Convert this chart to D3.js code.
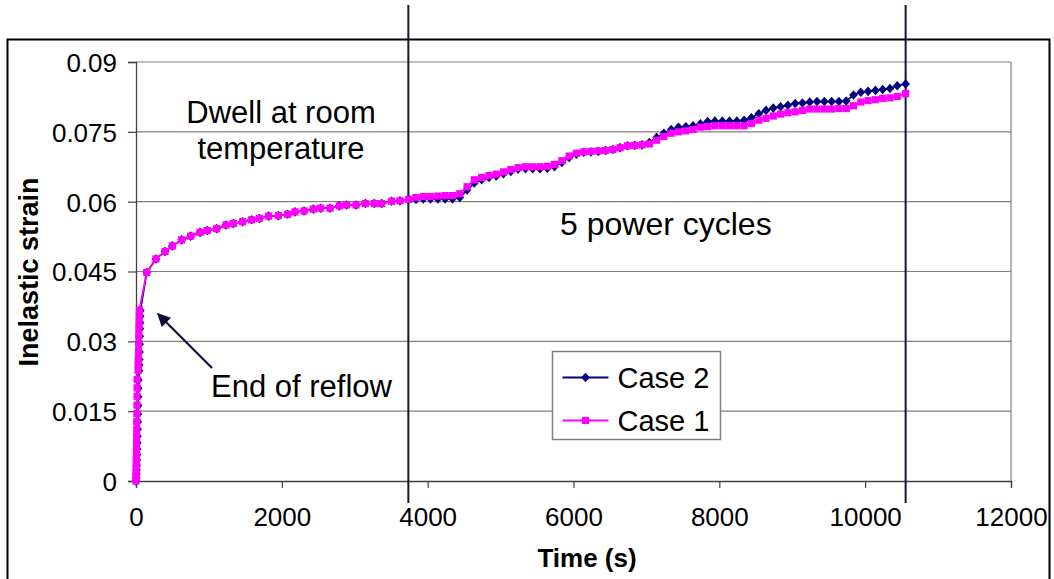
<!DOCTYPE html>
<html>
<head>
<meta charset="utf-8">
<script src="https://cdn.jsdelivr.net/npm/d3@7"></script>
<style>
  body { margin: 0; background: #fff; }
  svg { display: block; font-family: "Liberation Sans", Arial, sans-serif; }
</style>
</head>
<body>
<svg id="chart" width="1054" height="579"></svg>
<script>
// reflow: first seconds, strain climbs almost straight up
const reflowTime1 = [0, 1, 2, 3, 4, 5, 6, 7, 8, 9, 10, 11, 12, 13, 14, 15, 16, 28, 30, 32, 34, 36, 38, 40, 42, 44, 46];
const reflowStrain1 = [0, 0.0008, 0.0016, 0.0025, 0.0035, 0.0046, 0.0058, 0.007, 0.0083, 0.0097, 0.0112, 0.0128, 0.0145, 0.0163, 0.0182, 0.0200, 0.0218, 0.0238, 0.0250, 0.0262, 0.0278, 0.0295, 0.0312, 0.0328, 0.0341, 0.0355, 0.0367];
const reflowTime2 = [0, 4, 6, 8, 10, 12, 14, 16, 18, 20, 22, 24, 26, 28, 30, 32, 34, 42, 44, 46, 48, 50, 52, 54, 56, 58, 60];
const reflowStrain2 = [0, 0.0007, 0.0015, 0.0024, 0.0034, 0.0045, 0.0057, 0.0069, 0.0082, 0.0096, 0.0111, 0.0127, 0.0144, 0.0162, 0.0181, 0.0199, 0.0217, 0.0237, 0.0249, 0.0261, 0.0277, 0.0294, 0.0311, 0.0327, 0.0340, 0.0354, 0.0366];

// dwell at room temperature, both cases lie on top of each other
const dwellTime = [147, 274, 398, 498, 626, 750, 878, 978, 1106, 1234, 1335, 1463, 1586, 1691, 1820, 1952, 2080, 2180, 2304, 2432, 2533, 2660, 2788, 2889, 3017, 3145, 3268, 3369, 3506, 3620];
const dwellStrain = [0.0448, 0.0477, 0.0493, 0.0505, 0.0518, 0.0526, 0.0534, 0.0538, 0.0542, 0.0550, 0.0553, 0.0557, 0.0561, 0.0564, 0.0569, 0.0570, 0.0573, 0.0578, 0.0580, 0.0584, 0.0586, 0.0586, 0.0591, 0.0593, 0.0593, 0.0596, 0.0596, 0.0596, 0.0601, 0.0602];

// 5 power cycles
const cycleTime = [3740, 3840, 3940, 4040, 4140, 4240, 4340, 4440, 4540, 4640, 4740, 4840, 4940, 5040, 5140, 5240, 5340, 5440, 5540, 5640, 5740, 5840, 5940, 6040, 6140, 6240, 6340, 6440, 6540, 6640, 6740, 6840, 6940, 7040, 7140, 7240, 7340, 7440, 7540, 7640, 7740, 7840, 7940, 8040, 8140, 8240, 8340, 8440, 8540, 8640, 8740, 8840, 8940, 9040, 9140, 9240, 9340, 9440, 9540, 9640, 9740, 9840, 9940, 10040, 10140, 10240, 10340, 10440, 10555];
const cycleStrain1 = [0.0605, 0.0609, 0.0611, 0.0611, 0.0612, 0.0613, 0.0613, 0.0617, 0.0632, 0.0647, 0.0652, 0.0656, 0.0659, 0.0664, 0.0669, 0.0673, 0.0675, 0.0675, 0.0675, 0.0676, 0.0680, 0.0688, 0.0698, 0.0704, 0.0707, 0.0708, 0.0709, 0.0710, 0.0712, 0.0716, 0.0720, 0.0721, 0.0722, 0.0724, 0.0732, 0.0740, 0.0747, 0.0750, 0.0752, 0.0755, 0.0760, 0.0761, 0.0763, 0.0763, 0.0763, 0.0763, 0.0763, 0.0768, 0.0775, 0.0779, 0.0784, 0.0788, 0.0791, 0.0793, 0.0796, 0.0799, 0.0799, 0.0799, 0.0799, 0.0800, 0.0800, 0.0806, 0.0814, 0.0817, 0.0819, 0.0822, 0.0823, 0.0826, 0.0832];
const cycleStrain2 = [0.0605, 0.0605, 0.0606, 0.0606, 0.0606, 0.0606, 0.0606, 0.0609, 0.0625, 0.0640, 0.0647, 0.0652, 0.0655, 0.0660, 0.0665, 0.0670, 0.0671, 0.0671, 0.0671, 0.0672, 0.0675, 0.0684, 0.0695, 0.0702, 0.0706, 0.0707, 0.0708, 0.0710, 0.0712, 0.0716, 0.0720, 0.0721, 0.0722, 0.0727, 0.0738, 0.0747, 0.0755, 0.0760, 0.0761, 0.0763, 0.0767, 0.0772, 0.0773, 0.0773, 0.0773, 0.0773, 0.0775, 0.0780, 0.0789, 0.0796, 0.0801, 0.0804, 0.0807, 0.0811, 0.0812, 0.0814, 0.0815, 0.0815, 0.0815, 0.0815, 0.0816, 0.0829, 0.0835, 0.0837, 0.0839, 0.0841, 0.0843, 0.0849, 0.0853];

const xTicks = [0, 2000, 4000, 6000, 8000, 10000, 12000];
const yTicks = [0, 0.015, 0.03, 0.045, 0.06, 0.075, 0.09];
const eventTimes = [3735, 10555];
const seriesNames = ["Case 2", "Case 1"];
const seriesColors = ["#000080", "#ff00ff"];

const svg = d3.select("#chart");
const plot = {left: 136, right: 1011, top: 62, bottom: 481};

const x = d3.scaleLinear().domain([0, 12000]).range([plot.left, plot.right]);
const y = d3.scaleLinear().domain([0, 0.09]).range([plot.bottom, plot.top]);

function zipSeries(parts) {
  let pts = [];
  parts.forEach(function(p) {
    p[0].forEach(function(t, i) { pts.push({t: t, v: p[1][i]}); });
  });
  return pts;
}
const case1 = zipSeries([[reflowTime1, reflowStrain1], [dwellTime, dwellStrain], [cycleTime, cycleStrain1]]);
const case2 = zipSeries([[reflowTime2, reflowStrain2], [dwellTime, dwellStrain], [cycleTime, cycleStrain2]]);

svg.append("rect").attr("width", 1054).attr("height", 579).attr("fill", "#fff");

// outer chart frame
svg.append("rect")
  .attr("x", 7.5).attr("y", 39.5).attr("width", 1042).attr("height", 600)
  .attr("fill", "none").attr("stroke", "#000").attr("stroke-width", 2);

// gridlines
svg.append("g").selectAll("line").data(yTicks.slice(1)).join("line")
  .attr("x1", plot.left).attr("x2", plot.right)
  .attr("y1", d => y(d)).attr("y2", d => y(d))
  .attr("stroke", "#808080").attr("stroke-width", 1.2);
svg.append("line")
  .attr("x1", plot.right).attr("x2", plot.right).attr("y1", plot.top).attr("y2", plot.bottom)
  .attr("stroke", "#808080").attr("stroke-width", 1.2);

const xAxis = svg.append("g").attr("transform", `translate(0,${plot.bottom})`)
  .call(d3.axisBottom(x).tickValues(xTicks).tickSize(7).tickPadding(20).tickFormat(d3.format("d")));
const yAxis = svg.append("g").attr("transform", `translate(${plot.left},0)`)
  .call(d3.axisLeft(y).tickValues(yTicks).tickSize(8).tickPadding(11).tickFormat(d3.format("~g")));
[xAxis, yAxis].forEach(function(a) {
  a.select(".domain").attr("stroke", "#404040").attr("stroke-width", 1.3);
  a.selectAll(".tick line").attr("stroke", "#404040").attr("stroke-width", 1.2);
  a.selectAll(".tick text").attr("fill", "#000").style("font-size", "26px")
    .style("font-family", "'Liberation Sans', Arial, sans-serif");
});
yAxis.selectAll(".tick text").attr("dy", "0.36em");

// axis titles
svg.append("text").attr("x", 587).attr("y", 567).attr("text-anchor", "middle")
  .style("font-size", "26px").style("font-weight", "bold").text("Time (s)");
svg.append("text").attr("transform", "translate(38,272) rotate(-90)").attr("text-anchor", "middle")
  .style("font-size", "27px").style("font-weight", "bold").text("Inelastic strain");

// event lines
svg.append("g").selectAll("line").data(eventTimes).join("line")
  .attr("x1", d => x(d)).attr("x2", d => x(d)).attr("y1", 5).attr("y2", 503)
  .attr("stroke", "#14143c").attr("stroke-width", 2);

const line = d3.line().x(d => x(d.t)).y(d => y(d.v));
const diamond = "M0,-4.8L4.3,0L0,4.8L-4.3,0Z";
const square = "M-3.6,-3.6H3.6V3.6H-3.6Z";
const markerPaths = [diamond, square];

[case2, case1].forEach(function(data, i) {
  let g = svg.append("g");
  g.append("path").datum(data).attr("d", line)
    .attr("fill", "none").attr("stroke", seriesColors[i]).attr("stroke-width", 1.8);
  g.selectAll("path.m").data(data).join("path").attr("class", "m")
    .attr("transform", d => `translate(${x(d.t)},${y(d.v)})`)
    .attr("d", markerPaths[i]).attr("fill", seriesColors[i]);
});

// annotations
const note = svg.append("g").style("font-size", "31px").attr("fill", "#000");
note.append("text").attr("x", 281).attr("y", 123).attr("text-anchor", "middle").text("Dwell at room");
note.append("text").attr("x", 281).attr("y", 159).attr("text-anchor", "middle").text("temperature");
note.append("text").attr("x", 211).attr("y", 397).text("End of reflow");
note.append("text").attr("x", 560).attr("y", 235).style("font-size", "32px").text("5 power cycles");

svg.append("defs").append("marker")
  .attr("id", "head").attr("viewBox", "0 0 10 10").attr("refX", 9).attr("refY", 5)
  .attr("markerWidth", 7).attr("markerHeight", 6).attr("markerUnits", "strokeWidth")
  .attr("orient", "auto")
  .append("path").attr("d", "M0,0L10,5L0,10Z").attr("fill", "#0a0a30");
svg.append("line").attr("x1", 212).attr("y1", 368).attr("x2", 158).attr("y2", 314)
  .attr("stroke", "#0a0a30").attr("stroke-width", 2.2).attr("marker-end", "url(#head)");

// legend
const legend = svg.append("g").attr("transform", "translate(552.5,351.5)");
legend.append("rect").attr("width", 168).attr("height", 88)
  .attr("fill", "#fff").attr("stroke", "#808080").attr("stroke-width", 1.5);
seriesNames.forEach(function(name, i) {
  let ly = 26 + i * 43;
  legend.append("line").attr("x1", 10).attr("x2", 56).attr("y1", ly).attr("y2", ly)
    .attr("stroke", seriesColors[i]).attr("stroke-width", 1.8);
  legend.append("path").attr("transform", `translate(33,${ly})`).attr("d", markerPaths[i])
    .attr("fill", seriesColors[i]);
  legend.append("text").attr("x", 65).attr("y", ly + 10).style("font-size", "29px").text(name);
});
</script>
</body>
</html>
